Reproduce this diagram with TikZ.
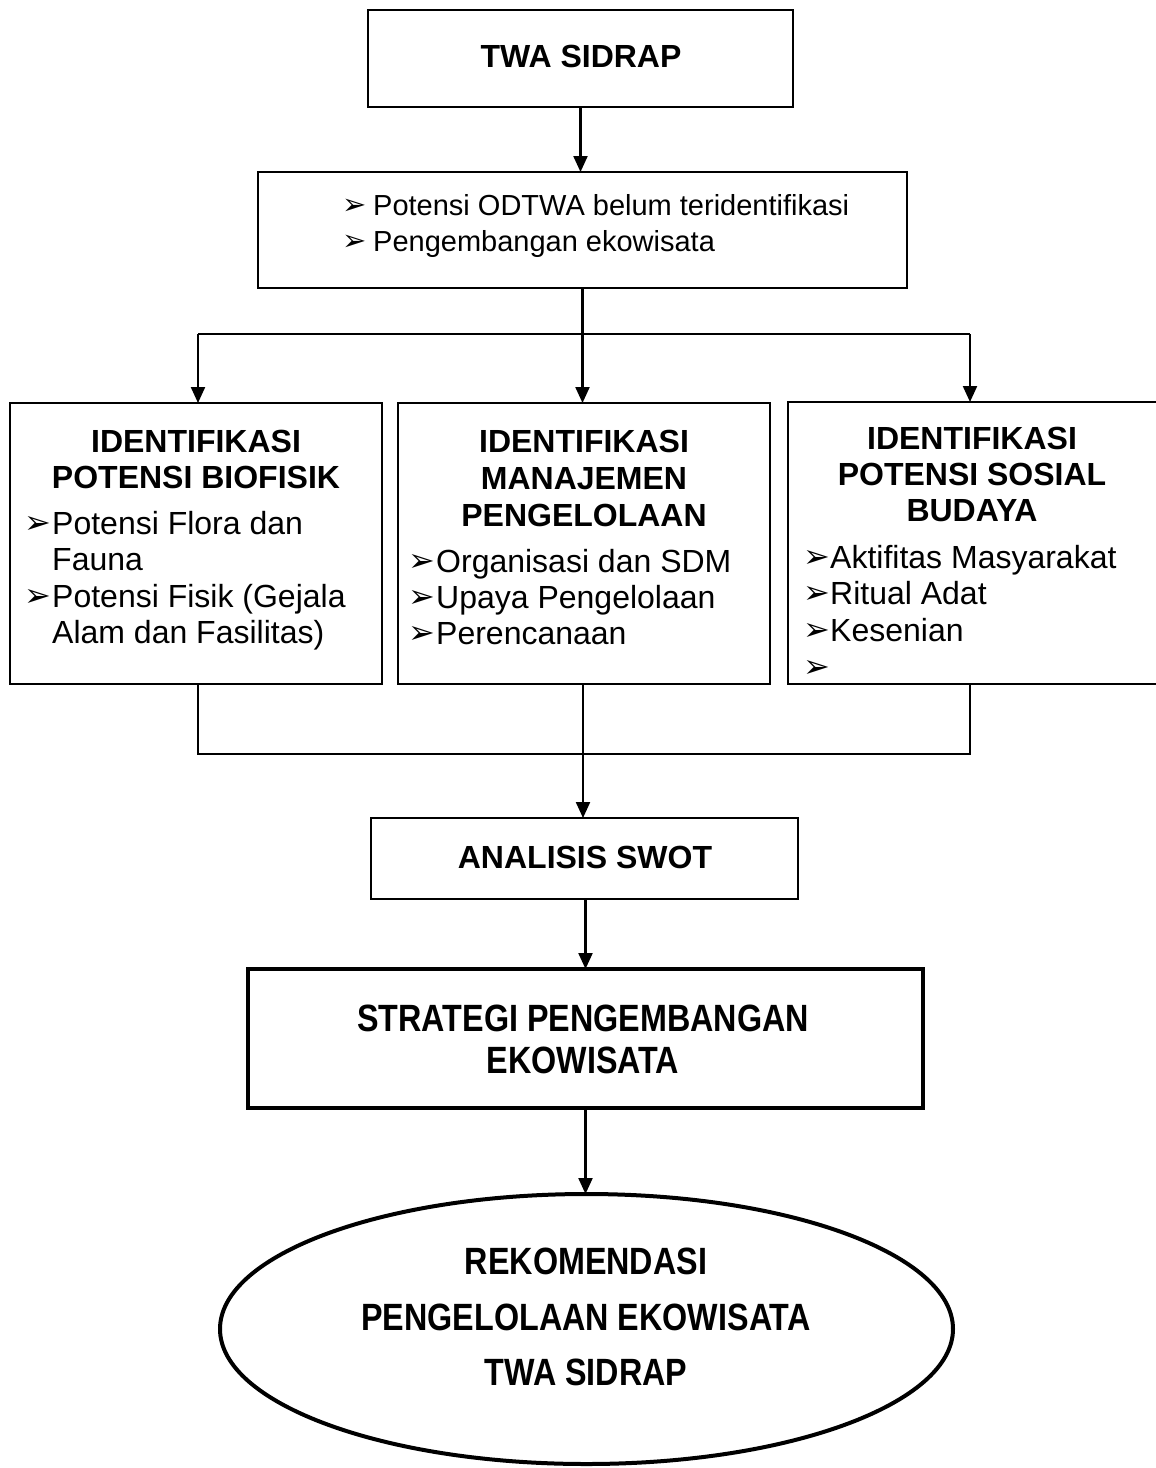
\documentclass[tikz,border=0pt]{standalone}
\usepackage{fontspec}
\setmainfont{Liberation Sans}
\newfontfamily\narrowfont[FakeStretch=0.85]{Liberation Sans}
\newfontfamily\bulletfont{DejaVu Sans}
\usetikzlibrary{arrows.meta,shapes.geometric}
\begin{document}
\begin{tikzpicture}[x=1pt,y=-1pt,
  box/.style={draw, line width=2pt, inner sep=0pt, outer sep=0pt},
  thickbox/.style={draw, line width=4.5pt, inner sep=0pt, outer sep=0pt},
  conn/.style={line width=2.2pt},
  arr/.style={line width=2.2pt, -{Triangle[length=16pt,width=14pt]}},
  hd/.style={anchor=base, inner sep=0pt, font=\fontsize{32}{36}\selectfont\bfseries},
  nar/.style={anchor=base, inner sep=0pt, font=\narrowfont\fontsize{38}{42}\selectfont\bfseries},
  it/.style={anchor=base west, inner sep=0pt, font=\fontsize{32}{36}\selectfont},
  smit/.style={anchor=base west, inner sep=0pt, font=\fontsize{29}{34}\selectfont},
  bul/.style={anchor=base west, inner sep=0pt, font=\bulletfont\fontsize{32}{36}\selectfont},
  smbul/.style={anchor=base west, inner sep=0pt, font=\bulletfont\fontsize{29}{34}\selectfont}
]
\useasboundingbox (0,0) rectangle (1156,1468);
% boxes
\node[box, minimum width=425pt, minimum height=97pt] (top) at (580.5,58.5) {};
\node[box, minimum width=649pt, minimum height=116pt] (prob) at (582.5,230) {};
\node[box, minimum width=372pt, minimum height=281pt] (bio) at (196,543.5) {};
\node[box, minimum width=372pt, minimum height=281pt] (man) at (584,543.5) {};
\node[box, minimum width=372pt, minimum height=282pt] (sos) at (974,543) {};
\node[box, minimum width=427pt, minimum height=81pt] (swot) at (584.5,858.5) {};
\node[thickbox, minimum width=675pt, minimum height=139pt] (strat) at (585.5,1038.5) {};
\node[ellipse, draw, line width=4pt, inner sep=0pt, outer sep=0pt, minimum width=733pt, minimum height=270pt] (rek) at (586.5,1329) {};
% texts
\node[hd] (t1) at (581,67) {TWA SIDRAP};
\node[smbul] (p1b) at (342,214) {➢};
\node[smit] (p1) at (373,215) {Potensi ODTWA belum teridentifikasi};
\node[smbul] (p2b) at (342,250) {➢};
\node[smit] (p2) at (373,251) {Pengembangan ekowisata};
% biofisik
\node[hd] (b1) at (196,452) {IDENTIFIKASI};
\node[hd] (b2) at (196,488) {POTENSI BIOFISIK};
\node[bul] (b3b) at (24,533) {➢};
\node[it] (b3) at (52,534) {Potensi Flora dan};
\node[it] (b4) at (52,570) {Fauna};
\node[bul] (b5b) at (24,606) {➢};
\node[it] (b5) at (52,607) {Potensi Fisik (Gejala};
\node[it] (b6) at (52,643) {Alam dan Fasilitas)};
% manajemen
\node[hd] (m1) at (584,452) {IDENTIFIKASI};
\node[hd] (m2) at (584,489) {MANAJEMEN};
\node[hd] (m3) at (584,526) {PENGELOLAAN};
\node[bul] (m4b) at (408,571) {➢};
\node[it] (m4) at (436,572) {Organisasi dan SDM};
\node[bul] (m5b) at (408,607) {➢};
\node[it] (m5) at (436,608) {Upaya Pengelolaan};
\node[bul] (m6b) at (408,643) {➢};
\node[it] (m6) at (436,644) {Perencanaan};
% sosial budaya
\node[hd] (s1) at (972,449) {IDENTIFIKASI};
\node[hd] (s2) at (972,485) {POTENSI SOSIAL};
\node[hd] (s3) at (972,521) {BUDAYA};
\node[bul] (s4b) at (803,567) {➢};
\node[it] (s4) at (830,568) {Aktifitas Masyarakat};
\node[bul] (s5b) at (803,603) {➢};
\node[it] (s5) at (830,604) {Ritual Adat};
\node[bul] (s6b) at (803,640) {➢};
\node[it] (s6) at (830,641) {Kesenian};
\node[bul] (s7b) at (803,677) {➢};
% swot etc
\node[hd] (w1) at (585,868) {ANALISIS SWOT};
\node[nar] (st1) at (583,1031) {STRATEGI PENGEMBANGAN};
\node[nar] (st2) at (583,1073) {EKOWISATA};
\node[nar] (r1) at (586,1274) {REKOMENDASI};
\node[nar] (r2) at (586,1330) {PENGELOLAAN EKOWISATA};
\node[nar] (r3) at (586,1385) {TWA SIDRAP};
% connectors
\coordinate (ja) at (582.5,334);
\coordinate (jl) at (198,334);
\coordinate (jr) at (970,334);
\coordinate (kl) at (198,754);
\coordinate (km) at (583,754);
\coordinate (kr) at (970,754);
\draw[arr] (top.south) -- (top.south |- prob.north);
\draw[conn] (prob.south) -- (ja);
\draw[conn] (jl) -- (jr);
\draw[arr] (jl) -- (jl |- bio.north);
\draw[arr] (ja) -- (ja |- man.north);
\draw[arr] (jr) -- (jr |- sos.north);
\draw[conn] (kl |- bio.south) -- (kl) -- (kr) -- (kr |- sos.south);
\draw[conn] (km |- man.south) -- (km);
\draw[arr] (km) -- (km |- swot.north);
\draw[arr] (swot.south -| strat.north) -- (strat.north);
\draw[arr] (strat.south) -- (strat.south |- rek.north);
\end{tikzpicture}
\end{document}
